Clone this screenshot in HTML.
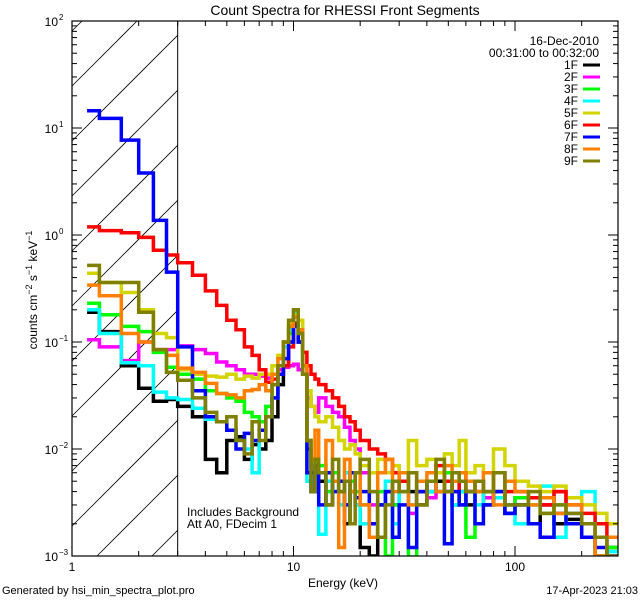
<!DOCTYPE html>
<html><head><meta charset="utf-8"><style>
html,body{margin:0;padding:0;background:#fff;overflow:hidden;width:640px;height:600px;}
svg{display:block;overflow:hidden;}
svg text{font-family:"Liberation Sans",sans-serif;fill:#000;}
</style></head><body>
<svg id="chart" width="640" height="600" viewBox="0 0 640 600" xmlns="http://www.w3.org/2000/svg">
<rect x="0" y="0" width="640" height="600" fill="#fff"/>
<text x="345" y="15" font-size="14" text-anchor="middle">Count Spectra for RHESSI Front Segments</text>
<g id="hatch"></g>
<g id="series"></g>
<g id="axes"></g>
<text x="187" y="516" font-size="12">Includes Background</text>
<text x="187" y="528" font-size="12">Att A0, FDecim 1</text>
<g id="legend">
<text x="599" y="45" font-size="12" text-anchor="end">16-Dec-2010</text>
<text x="599" y="57" font-size="12" text-anchor="end">00:31:00 to 00:32:00</text>
</g>
<text x="343" y="587" font-size="12" text-anchor="middle">Energy (keV)</text>
<text transform="translate(37,290) rotate(-90)" font-size="12" text-anchor="middle">counts cm<tspan dy="-5" font-size="9">−2</tspan><tspan dy="5"> s</tspan><tspan dy="-5" font-size="9">−1</tspan><tspan dy="5"> keV</tspan><tspan dy="-5" font-size="9">−1</tspan></text>
<text x="2" y="594" font-size="11">Generated by hsi_min_spectra_plot.pro</text>
<text x="638" y="594" font-size="11" text-anchor="end">17-Apr-2023 21:03</text>
</svg>
<script>
const edges = [1.17,1.33,1.67,2,2.33,2.67,3,3.5,4,4.5,5,5.5,6,6.5,7,7.5,8,8.5,9,9.5,10,10.5,11,11.5,12,12.5,13,14,15,16,17,18,19,20,22,24,26,28,30,33,36,40,44,48,52,56,60,66,72,80,90,100,115,130,150,170,200,230,260,290];
const seriesNames = ["1F","2F","3F","4F","5F","6F","7F","8F","9F"];
const seriesColors = ["#000000","#ff00ff","#00ff00","#00ffff","#d4d400","#ff0000","#0000ff","#ff8000","#808000"];
const s1F = [.19,.125,.06,.037,.028,.029, .025,.02,.008,.006,.012,.013,.008,.011,.01,.012,.02,.04,.06,.1, .15,.1,.05,.01,.006,.004, .005,.003,.006,.004,.002,.004,.003, .0012,.001,.003,.004,.003, .005,.004,.003, .004,.005,.004,.003,.004, .003,.004,.003,.004,.0025, .003,.002,.003,.002,.0022,.0015,.001,.0012];
const s2F = [.105,.09,.067,.1,.085,.085, .092,.085,.078,.065,.06,.055,.05,.05,.048,.046,.05,.055,.058,.06, .062,.055,.05,.03,.025,.022, .03,.025,.022,.02,.016,.012,.01, .006,.003,.0015,.004,.005, .004,.0025,.005, .0035,.006,.004,.005,.003, .004,.005,.0035,.004,.003, .0035,.0035,.003,.004,.0025,.002,.0015,.001];
const s3F = [.23,.18,.14,.125,.08,.058, .05,.045,.035,.033,.03,.028,.022,.02,.018,.025,.04,.06,.09,.12, .17,.12,.05,.012,.008,.005, .007,.004,.006,.005,.003,.005,.004, .003,.002,.004,.001,.003, .005,.0009,.004, .005,.004,.006,.003,.004, .0015,.004,.003,.004,.003, .0035,.003,.0025,.003,.002,.0015,.001,.0012];
const s4F = [.2,.12,.064,.06,.034,.03, .029,.024,.019,.018,.015,.012,.01,.006,.015,.02,.03,.05,.09,.13, .19,.12,.05,.005,.004,.006, .0016,.005,.004,.003,.006,.004,.003, .002,.004,.003,.005,.002, .004,.003,.005, .004,.006,.005,.003,.004, .005,.003,.004,.0035,.003, .002,.003,.0045,.0015,.0025,.004,.0015,.0011];
const s5F = [.44,.36,.29,.2,.12,.11, .055,.05,.048,.047,.05,.045,.048,.046,.05,.05,.06,.075,.1,.15, .18,.16,.08,.035,.025,.02, .018,.02,.016,.012,.01,.011,.009, .007,.006,.008,.006,.007, .006,.012,.007, .008,.006,.009,.007,.012, .006,.007,.006,.01,.007, .005,.0045,.004,.0045,.0035,.003,.0025,.002];
const s6F = [1.19,1.1,1.05,.95,.72,.65, .55,.42,.3,.22,.16,.13,.09,.075,.055,.042,.045,.05,.06,.09, .17,.12,.08,.06,.05,.045, .04,.035,.03,.025,.02,.018,.015, .012,.01,.009,.008,.006, .005,.006,.004, .005,.007,.005,.004,.006, .004,.005,.004,.006,.004, .004,.0035,.003,.004,.003,.0025,.002,.0015];
const s7F = [14.5,12.3,7.7,3.8,1.37,.45, .09,.035,.02,.018,.015,.01,.014,.012,.015,.02,.03,.05,.07,.1, .14,.1,.05,.006,.004,.007, .003,.006,.004,.005,.003,.006,.0035, .004,.002,.003,.004,.0015, .003,.0012,.004, .005,.004,.0013,.004,.003, .004,.002,.003,.004,.0025, .003,.002,.0015,.0025,.002,.0015,.0012,.001];
const s8F = [.34,.27,.12,.1,.085,.075, .057,.052,.041,.033,.032,.03,.035,.036,.04,.035,.05,.07,.1,.14, .17,.13,.06,.012,.008,.015, .006,.012,.005,.0012,.008,.004,.006, .003,.0015,.006,.008,.004, .006,.003,.005, .006,.004,.007,.005,.006, .005,.004,.006,.003,.005, .004,.003,.0035,.0025,.003,.002,.001,.0015];
const s9F = [.52,.36,.36,.19,.085,.052, .044,.03,.022,.018,.02,.012,.009,.018,.012,.02,.04,.06,.1,.16, .2,.12,.05,.012,.004,.008, .006,.003,.008,.004,.005,.002,.006, .008,.004,.0015,.003,.005, .004,.006,.003, .005,.008,.004,.006,.005, .004,.005,.004,.006,.003, .003,.004,.0025,.003,.0025,.002,.0015,.001];
const seriesValues = [s1F,s2F,s3F,s4F,s5F,s6F,s7F,s8F,s9F];
const xTicks = [1,10,100];
const xTickLabels = ["1","10","100"];
const yTickExps = [2,1,0,-1,-2,-3];

const NS="http://www.w3.org/2000/svg";
const L=72,R=618,T=21,B=556;
const xMin=1,xMax=Math.pow(10,(R-L)/221.5);
function xs(e){return L+(Math.log10(e)-Math.log10(xMin))/(Math.log10(xMax)-Math.log10(xMin))*(R-L);}
function ys(v){var lv=Math.log10(Math.max(v,1e-4));var y=T+(2-lv)/5*(B-T);return Math.min(y,B+1);}
function mk(tag,attrs,parent){var e=document.createElementNS(NS,tag);for(var k in attrs)e.setAttribute(k,attrs[k]);parent.appendChild(e);return e;}

var hg=document.getElementById('hatch');
var X3=xs(3);
for(var c=158-55*3;c<1000;c+=55){
  var xa=Math.max(L,c-B), xb=Math.min(X3,c-T);
  if(xb<=xa) continue;
  var ln=mk('line',{x1:xa,y1:c-xa,x2:xb,y2:c-xb,stroke:'#000','stroke-width':0.8},hg);
  
  
}
var vl=mk('line',{x1:X3,y1:T,x2:X3,y2:B,stroke:'#000','stroke-width':1},hg);



var sg=document.getElementById('series');
var pc=mk('clipPath',{id:'pclip'},document.getElementById('chart'));
mk('rect',{x:L,y:T,width:R-L,height:B-T},pc);
sg.setAttribute('clip-path','url(#pclip)');
seriesValues.forEach(function(vals,si){
  var d='';
  for(var i=0;i<vals.length;i++){
    var x0=xs(edges[i]),x1=xs(edges[i+1]),y=ys(vals[i]);
    d+=(i===0?'M':'L')+x0.toFixed(1)+','+y.toFixed(1)+'L'+x1.toFixed(1)+','+y.toFixed(1);
  }
  var p=mk('path',{d:d,fill:'none',stroke:seriesColors[si],'stroke-width':3.5,'stroke-linejoin':'miter'},sg);
  
  
});

var ag=document.getElementById('axes');
var fr=mk('rect',{x:L,y:T,width:R-L,height:B-T,fill:'none',stroke:'#000','stroke-width':1.2},ag);


for(var dec=0;dec<3;dec++){
  for(var m=1;m<10;m++){
    var e=Math.pow(10,dec)*m; if(e>xMax)break;
    var x=xs(e),len=(m===1)?10:5;
    mk('line',{x1:x,y1:B,x2:x,y2:B-len,stroke:'#000','stroke-width':1},ag);
    mk('line',{x1:x,y1:T,x2:x,y2:T+len,stroke:'#000','stroke-width':1},ag);
  }
}
xTicks.forEach(function(t,i){
  var tx=mk('text',{x:xs(t),y:B+15,'font-size':12,'text-anchor':'middle'},ag);
  tx.textContent=xTickLabels[i];
  
  
});
for(var ex=-3;ex<2;ex++){
  for(var m=1;m<10;m++){
    var y=ys(Math.pow(10,ex)*m),len=(m===1)?10:5;
    mk('line',{x1:L,y1:y,x2:L+len,y2:y,stroke:'#000','stroke-width':1},ag);
    mk('line',{x1:R,y1:y,x2:R-len,y2:y,stroke:'#000','stroke-width':1},ag);
  }
}
yTickExps.forEach(function(ex){
  var y=ys(Math.pow(10,ex));
  var tx=mk('text',{x:58,y:y+5,'font-size':12,'text-anchor':'end'},ag);
  tx.textContent='10';
  
  
  var sup=mk('text',{x:59,y:y-1,'font-size':8},ag);
  sup.textContent=(ex<0?'−':'')+Math.abs(ex);
  
  
});

var lg=document.getElementById('legend');
seriesNames.forEach(function(n,i){
  var y=69+i*12;
  var t=mk('text',{x:578,y:y,'font-size':12,'text-anchor':'end'},lg);
  t.textContent=n;
  
  
  var l=mk('line',{x1:583,y1:y-4,x2:600,y2:y-4,stroke:seriesColors[i],'stroke-width':3},lg);
  
  
});
</script>
</body></html>
